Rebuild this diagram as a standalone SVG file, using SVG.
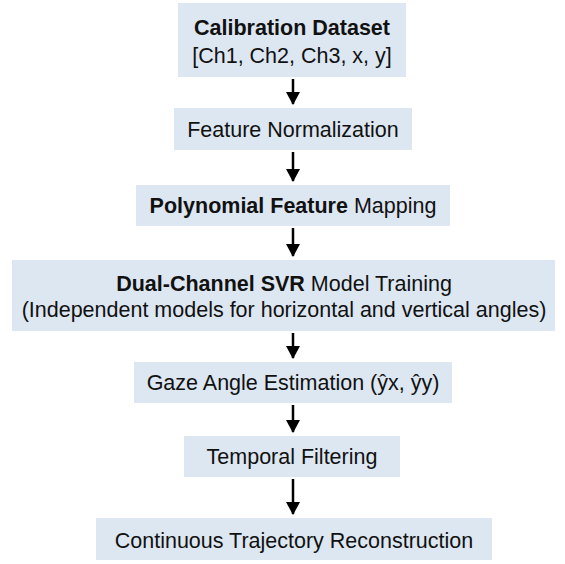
<svg xmlns="http://www.w3.org/2000/svg" width="565" height="564" viewBox="0 0 565 564">
<style>
.box{fill:#dde7f2;}
.t{font-family:"Liberation Sans",Arial,sans-serif;font-size:21.5px;fill:#111;text-anchor:middle;}
.b{font-weight:bold;}
.arr{stroke:#000;stroke-width:2.5;fill:none;}
.hd{fill:#000;}
</style>
<rect width="565" height="564" fill="#fff"/>
<g id="connectors">
<line class="arr" x1="293" y1="79" x2="293" y2="104"/>
<path class="hd" d="M286,92 L300,92 L293,105 Z"/>
<line class="arr" x1="293" y1="152" x2="293" y2="181"/>
<path class="hd" d="M286,169 L300,169 L293,182 Z"/>
<line class="arr" x1="293" y1="228" x2="293" y2="256"/>
<path class="hd" d="M286,244 L300,244 L293,257 Z"/>
<line class="arr" x1="293" y1="333" x2="293" y2="358"/>
<path class="hd" d="M286,346 L300,346 L293,359 Z"/>
<line class="arr" x1="293" y1="405" x2="293" y2="432"/>
<path class="hd" d="M286,420 L300,420 L293,433 Z"/>
<line class="arr" x1="293" y1="479" x2="293" y2="514"/>
<path class="hd" d="M286,502 L300,502 L293,515 Z"/>
</g>
<g id="n1">
<rect class="box" x="178" y="3" width="228" height="74"/>
<text class="t b" x="292" y="35">Calibration Dataset</text>
<text class="t" x="292" y="63">[Ch1, Ch2, Ch3, x, y]</text>
</g>
<g id="n2">
<rect class="box" x="174" y="108" width="238" height="42"/>
<text class="t" x="293" y="137">Feature Normalization</text>
</g>
<g id="n3">
<rect class="box" x="136" y="185" width="314" height="41"/>
<text class="t" x="293" y="213"><tspan class="b">Polynomial Feature</tspan> Mapping</text>
</g>
<g id="n4">
<rect class="box" x="12" y="260" width="543" height="71"/>
<text class="t" x="284" y="291"><tspan class="b">Dual-Channel SVR</tspan> Model Training</text>
<text class="t" x="284" y="317">(Independent models for horizontal and vertical angles)</text>
</g>
<g id="n5">
<rect class="box" x="134" y="362" width="318" height="41"/>
<text class="t" x="293" y="390">Gaze Angle Estimation (ŷx, ŷy)</text>
</g>
<g id="n6">
<rect class="box" x="184" y="436" width="216" height="41"/>
<text class="t" x="292" y="464">Temporal Filtering</text>
</g>
<g id="n7">
<rect class="box" x="96" y="518" width="396" height="42"/>
<text class="t" x="294" y="548">Continuous Trajectory Reconstruction</text>
</g>
</svg>
